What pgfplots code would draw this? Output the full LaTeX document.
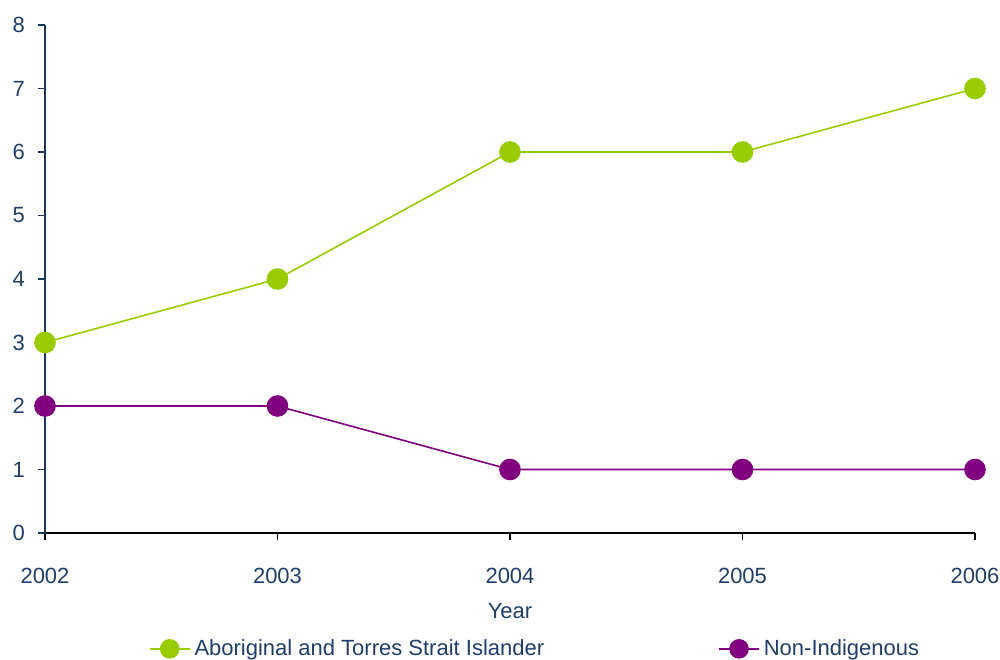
\documentclass[border=0pt]{standalone}
\usepackage{pgfplots}
\pgfplotsset{compat=1.18}
\usepackage{fontspec}
\setmainfont{Liberation Sans}
\definecolor{txt}{HTML}{1F3F6A}
\definecolor{axblue}{HTML}{17375E}
\definecolor{grn}{HTML}{99CC00}
\definecolor{pur}{HTML}{800080}
\begin{document}
\begin{tikzpicture}
\path[use as bounding box] (-22.5pt,-63pt) rectangle (477.5pt,266.5pt);
\begin{axis}[
  scale only axis,
  width=465pt, height=254pt,
  xmin=2002, xmax=2006, ymin=0, ymax=8,
  xtick={2002,2003,2004,2005,2006},
  ytick={0,1,2,3,4,5,6,7,8},
  xticklabel style={/pgf/number format/1000 sep={}},
  /pgf/number format/assume math mode=true,
  axis x line*=bottom, axis y line*=left,
  x axis line style={black, line width=0.8pt, -},
  y axis line style={axblue, line width=0.8pt, -},
  tick style={axblue, line width=0.6pt},
  xtick style={black},
  tick align=outside,
  major tick length=3.5pt,
  clip=false,
  tick label style={font=\fontsize{11}{13}\selectfont, text=txt},
  yticklabel style={xshift=-3pt},
  xticklabel style={yshift=-10.5pt},
  xlabel={Year},
  xlabel style={font=\fontsize{11}{13}\selectfont, text=txt, yshift=-3pt},
  legend columns=2,
  legend style={draw=none, fill=none, at={(0.528,-0.228)}, anchor=center,
    font=\fontsize{11}{13}\selectfont, text=txt,
    /tikz/every even column/.append style={column sep=85pt},
    inner sep=0pt},
  legend image code/.code={
    \draw[#1, mark=none] (0pt,0pt) -- (20pt,0pt);
    \draw[#1, only marks, mark size=4.5pt] plot coordinates {(10pt,0pt)};
  },
]
\addplot[grn, line width=0.8pt, mark=*, mark size=5pt, mark options={fill=grn, draw=grn}]
  coordinates {(2002,3) (2003,4) (2004,6) (2005,6) (2006,7)};
\addlegendentry{Aboriginal and Torres Strait Islander}
\addplot[pur, line width=0.8pt, mark=*, mark size=5pt, mark options={fill=pur, draw=pur}]
  coordinates {(2002,2) (2003,2) (2004,1) (2005,1) (2006,1)};
\addlegendentry{Non-Indigenous}
\end{axis}
\end{tikzpicture}
\end{document}
